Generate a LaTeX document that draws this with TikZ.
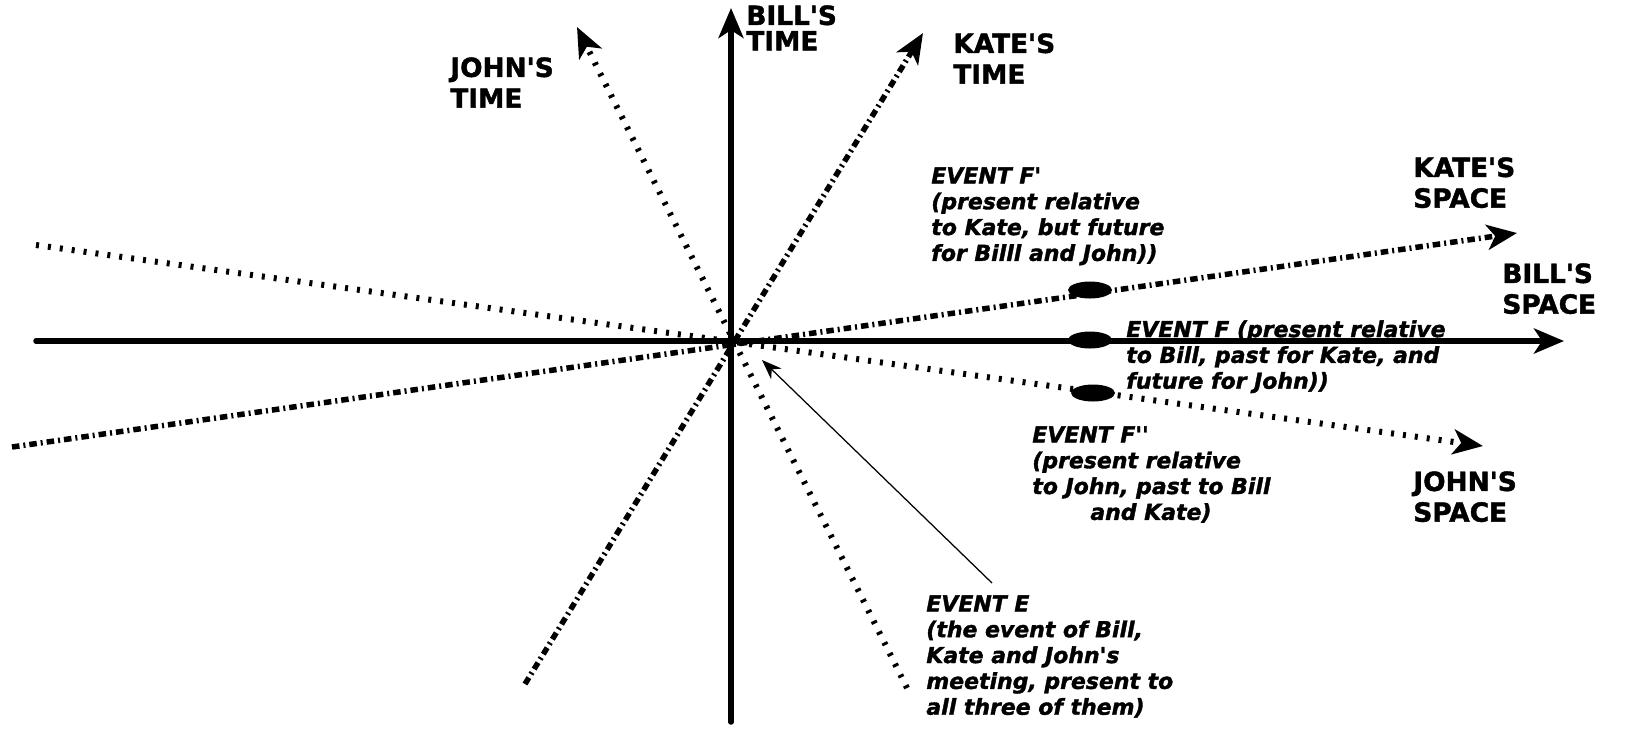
\documentclass[tikz,border=0pt]{standalone}
\usepackage{fontspec}
\newfontfamily\lblfont{DejaVu Sans}[BoldFeatures={FakeBold=1.6}, BoldItalicFeatures={FakeBold=1.6}]
\usetikzlibrary{arrows.meta,shapes.geometric}

\begin{document}
\begin{tikzpicture}[
  x=0.2mm, y=-0.2mm,
  >={Stealth[length=6mm,width=5mm,inset=1.6mm]},
  axis/.style={line width=1.1mm, line cap=round, ->},
  kate/.style={line width=1.1mm, dash pattern=on 1.5mm off 0.8mm on 0.4mm off 0.8mm, ->},
  john/.style={line width=1.2mm, dash pattern=on 0.6mm off 1.8mm, ->},
  ptr/.style={line width=0.25mm, -{Stealth[length=4mm,width=3mm]}},
  axlbl/.style={font=\lblfont\bfseries\fontsize{15}{17.5}\selectfont, align=left, inner sep=0, anchor=north west},
  evlbl/.style={font=\lblfont\bfseries\itshape\fontsize{12.5}{14.7}\selectfont, align=left, inner sep=0, anchor=north west},
  evdot/.style={ellipse, fill, minimum width=8.8mm, minimum height=3.4mm, inner sep=0},
]
\useasboundingbox (0,0) rectangle (1635,732);

% end points of the world lines
\coordinate (O) at (731,341);
\coordinate (billT0) at (731,722);
\coordinate (billT1) at (731,8);
\coordinate (billS0) at (36,341);
\coordinate (billS1) at (1564,341);
\coordinate (kateS0) at (12,447);
\coordinate (kateS1) at (1517,233);
\coordinate (kateT0) at (525,684);
\coordinate (kateT1) at (923,33);
\coordinate (johnS0) at (36,245);
\coordinate (johnS1) at (1483,446);
\coordinate (johnT0) at (907,688);
\coordinate (johnT1) at (577,27);

% Bill
\draw[axis] (billT0) -- (billT1);
\draw[axis] (billS0) -- (billS1);
% Kate
\draw[kate] (kateS0) -- (kateS1);
\draw[kate] (kateT0) -- (kateT1);
% John
\draw[john] (johnS0) -- (johnS1);
\draw[john] (johnT0) -- (johnT1);

% axis labels
\node[axlbl] (billTl) at (746,5) {BILL'S\\[-3pt]TIME};
\node[axlbl] (kateTl) at (953,33) {KATE'S\\TIME};
\node[axlbl] (johnTl) at (450,57) {JOHN'S\\TIME};
\node[axlbl] (kateSl) at (1413,157) {KATE'S\\SPACE};
\node[axlbl] (billSl) at (1502,263) {BILL'S\\SPACE};
\node[axlbl] (johnSl) at (1413,471) {JOHN'S\\SPACE};

% events
\node[evdot] (Fa) at (1090,290) {};
\node[evdot] (F) at (1090,340) {};
\node[evdot] (Fb) at (1093,393) {};

\node[evlbl] (evFa) at (931,167)
  {EVENT F'\\(present relative\\to Kate, but future\\for Billl and John))};
\node[evlbl] (evF) at (1126,320)
  {EVENT F (present relative\\to Bill, past for Kate, and\\future for John))};
\node[evlbl] (evFb) at (1032,426)
  {EVENT F''\\(present relative\\to John, past to Bill\\\hspace*{11.6mm}and Kate)};
\node[evlbl] (evE) at (926,595)
  {EVENT E\\(the event of Bill,\\Kate and John's\\meeting, present to\\all three of them)};

% pointer to the meeting
\coordinate (Etail) at (992,583);
\coordinate (Etip) at (762,360);
\draw[ptr] (Etail) -- (Etip);
\end{tikzpicture}
\end{document}
